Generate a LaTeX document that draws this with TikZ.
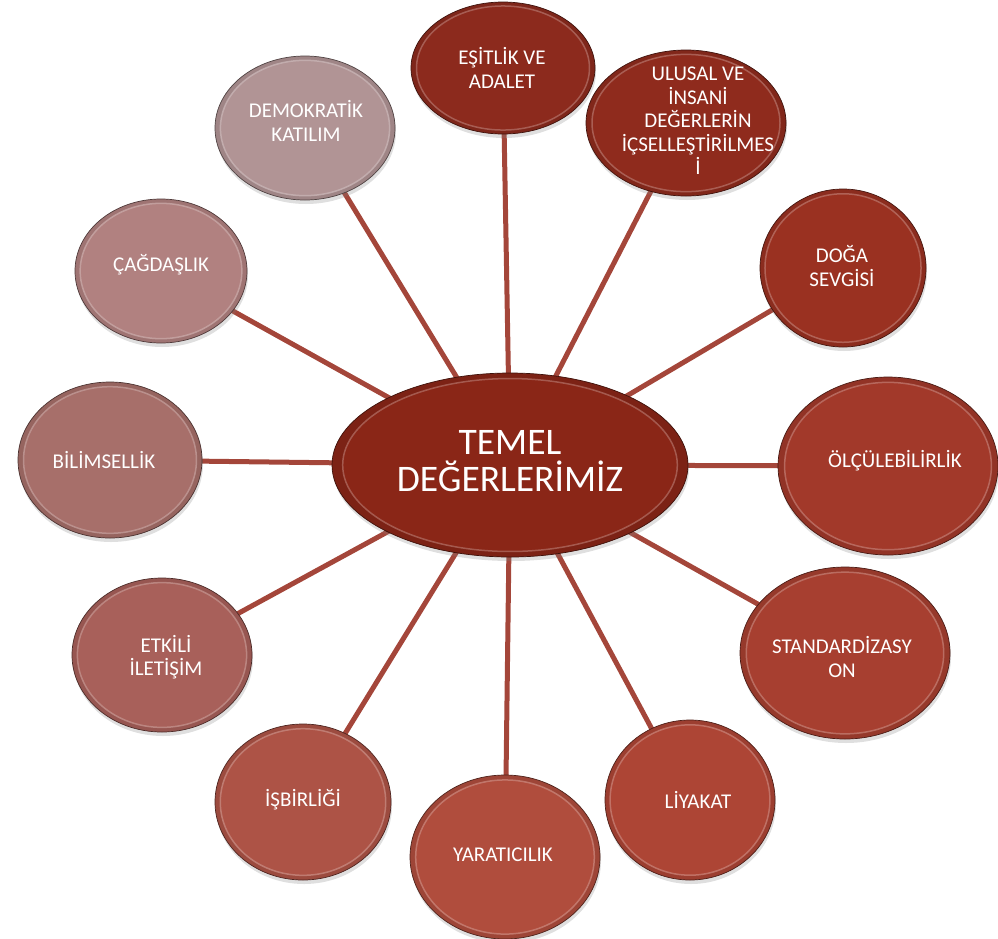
\documentclass[tikz,border=0pt]{standalone}
\usepackage{fontspec}
\setmainfont{Carlito}
\usetikzlibrary{shapes.geometric,shadows,calc}
\pgfdeclarelayer{bg}
\pgfsetlayers{bg,main}
\definecolor{c0}{HTML}{8A2617}
\definecolor{c1}{HTML}{8C2A1D}
\definecolor{c2}{HTML}{8F2B1D}
\definecolor{c3}{HTML}{9A3121}
\definecolor{c4}{HTML}{A2392A}
\definecolor{c5}{HTML}{A73F30}
\definecolor{c6}{HTML}{AD4535}
\definecolor{c7}{HTML}{B04D3D}
\definecolor{c8}{HTML}{AD5346}
\definecolor{c9}{HTML}{A8605A}
\definecolor{c10}{HTML}{A76F6A}
\definecolor{c11}{HTML}{B18180}
\definecolor{c12}{HTML}{B19495}
\definecolor{linkc}{HTML}{A4463A}
\tikzset{
  bub/.style={ellipse, inner sep=0pt, fill=#1!90!black, draw=#1!45!black, line width=0.7pt,
    drop shadow={shadow xshift=1pt, shadow yshift=-4pt, opacity=0.25},
    path picture={
      \path let \p1=(path picture bounding box.north east), \p2=(path picture bounding box.center) in
        [fill=#1, draw=#1!70!white, draw opacity=0.8, line width=1.5pt]
        (\p2) ellipse [x radius={0.94*(\x1-\x2)}, y radius={0.94*(\y1-\y2)}];
    }},
  lbl/.style={text=white, align=center, inner sep=0pt, font=\fontsize{21}{23.5}\selectfont},
  biglbl/.style={text=white, align=center, inner sep=0pt, font=\fontsize{37.5}{37}\selectfont},
  link/.style={draw=linkc, line width=5pt}
}
\newcommand\mybubble[7]{%
  \node[bub=#6, minimum width={2*#4}, minimum height={2*#5}] (#1) at (#2,#3) {};
}
\begin{document}
\begin{tikzpicture}[x=1pt,y=-1pt]
\useasboundingbox (0,0) rectangle (998,938);
\mybubble{c}{510}{465}{178}{92}{c0}{}
\mybubble{n1}{503}{68}{92}{66}{c1}{}
\mybubble{n2}{686}{123}{100}{73}{c2}{}
\mybubble{n3}{843}{268}{83}{79}{c3}{}
\mybubble{n4}{888}{466}{110}{89}{c4}{}
\mybubble{n5}{845}{653}{105}{86}{c5}{}
\mybubble{n6}{690}{800}{85}{80}{c6}{}
\mybubble{n7}{505}{857}{95}{82}{c7}{}
\mybubble{n8}{303}{802}{88}{78}{c8}{}
\mybubble{n9}{162}{655}{90}{77}{c9}{}
\mybubble{n10}{110}{460}{92}{78}{c10}{}
\mybubble{n11}{161}{271}{86}{72}{c11}{}
\mybubble{n12}{305}{128}{90}{72}{c12}{}

\node[biglbl] (t0) at (510,461) {TEMEL\\DEĞERLERİMİZ};
\node[lbl] (t1) at (502,68) {EŞİTLİK VE\\ADALET};
\node[lbl] (t2) at (698,121) {ULUSAL VE\\İNSANİ\\DEĞERLERİN\\İÇSELLEŞTİRİLMES\\İ};
\node[lbl] (t3) at (842,266) {DOĞA\\SEVGİSİ};
\node[lbl] (t4) at (895,461) {ÖLÇÜLEBİLİRLİK};
\node[lbl] (t5) at (842,657) {STANDARDİZASY\\ON};
\node[lbl] (t6) at (698,800) {LİYAKAT};
\node[lbl] (t7) at (503,855) {YARATICILIK};
\node[lbl] (t8) at (303,800) {İŞBİRLİĞİ};
\node[lbl] (t9) at (166,657) {ETKİLİ\\İLETİŞİM};
\node[lbl] (t10) at (104,460) {BİLİMSELLİK};
\node[lbl] (t11) at (161,265) {ÇAĞDAŞLIK};
\node[lbl] (t12) at (306,121) {DEMOKRATİK\\KATILIM};

\begin{pgfonlayer}{bg}
\foreach \n in {n1,n2,n3,n4,n5,n6,n7,n8,n9,n10,n11,n12}
  \draw[link] (c.center) -- (\n.center);
\end{pgfonlayer}
\end{tikzpicture}
\end{document}
